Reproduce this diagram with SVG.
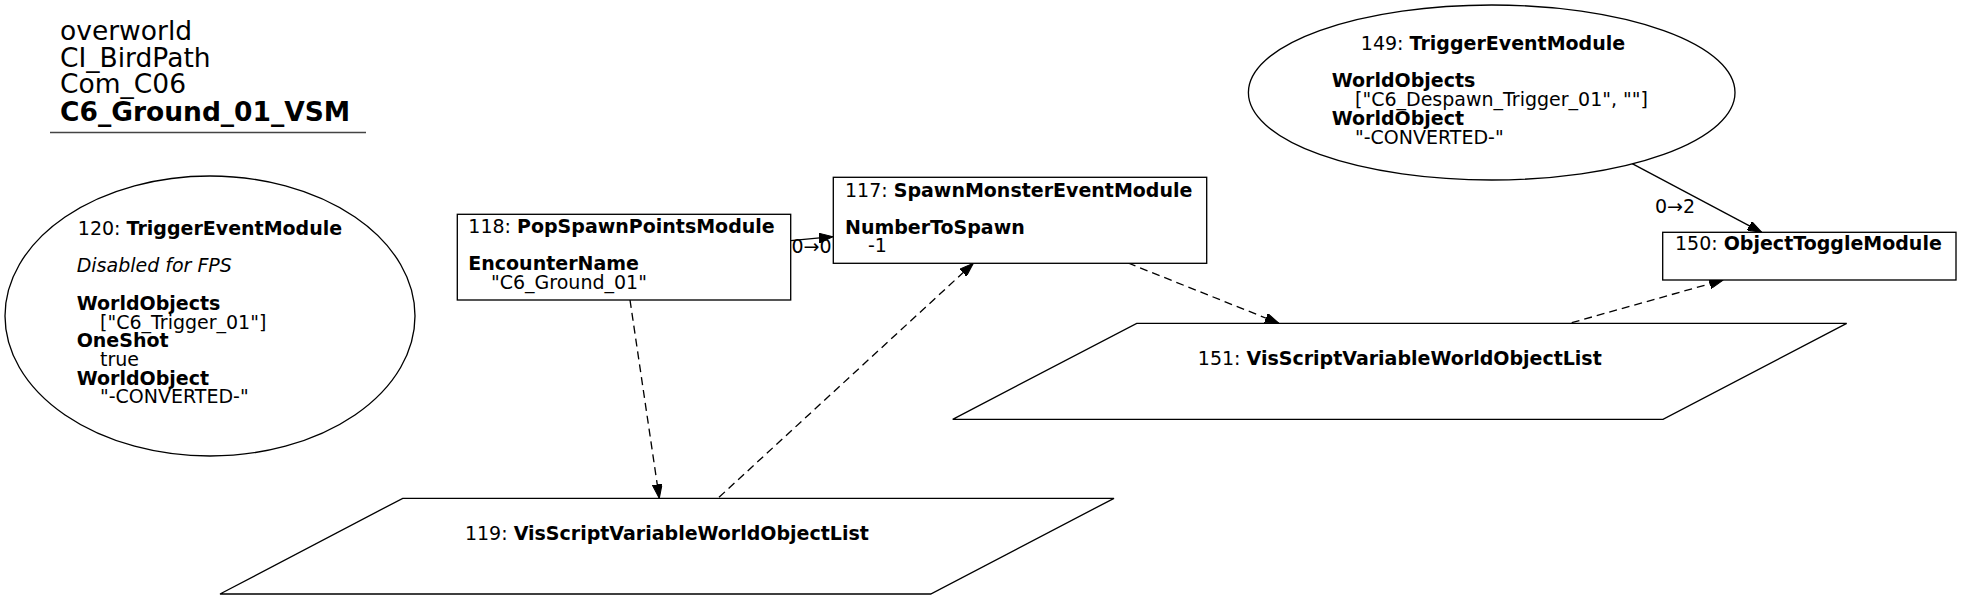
<svg xmlns="http://www.w3.org/2000/svg" width="1961" height="600" viewBox="0 0 1961 600">
<style>
text { font-family: "DejaVu Sans", "Liberation Sans", sans-serif; font-size: 19px; fill: #000; }
.b { font-weight: bold; }
.i { font-style: italic; }
.title { font-size: 26.5px; }
.shape { fill: #fff; stroke: #000; stroke-width: 1.33; }
.edge { fill: none; stroke: #000; stroke-width: 1.33; }
.dash { stroke-dasharray: 8,5; }
.mid { text-anchor: middle; }
</style>
<defs>
<marker id="arr" markerUnits="userSpaceOnUse" markerWidth="14" markerHeight="10" viewBox="0 0 13.3 9.4" refX="13.3" refY="4.7" orient="auto">
<path d="M0,0 L13.3,4.7 L0,9.4 z" fill="#000" stroke="#000" stroke-width="1"/>
</marker>
</defs>
<rect x="0" y="0" width="1961" height="600" fill="#fff"/>
<g id="title">
<text class="title" x="60" y="40">overworld</text>
<text class="title" x="60" y="66.7">CI_BirdPath</text>
<text class="title" x="60" y="93.4">Com_C06</text>
<text class="title b" x="60" y="120.5">C6_Ground_01_VSM</text>
<line x1="50" y1="132.5" x2="366" y2="132.5" stroke="#444" stroke-width="1.5"/>
</g>
<g id="connectors">
<path class="edge" d="M790.7,240.7 L833,236.7" marker-end="url(#arr)"/>
<text x="791.5" y="253">0→0</text>
<path class="edge" d="M1631.7,163.3 L1761.7,232.3" marker-end="url(#arr)"/>
<text x="1655" y="212.7">0→2</text>
<path class="edge dash" d="M630,300 L659.3,498.3" marker-end="url(#arr)"/>
<path class="edge dash" d="M719,497.3 L973.3,263.3" marker-end="url(#arr)"/>
<path class="edge dash" d="M1128,263 L1279,323.3" marker-end="url(#arr)"/>
<path class="edge dash" d="M1571.7,322.7 L1723.3,280" marker-end="url(#arr)"/>
</g>
<g id="node120">
<ellipse class="shape" cx="210" cy="316" rx="205" ry="140"/>
<text class="mid" x="210" y="235">120: <tspan class="b">TriggerEventModule</tspan></text>
<text class="i" x="76.7" y="272.4">Disabled for FPS</text>
<text class="b" x="76.7" y="309.8">WorldObjects</text>
<text x="100" y="328.5">["C6_Trigger_01"]</text>
<text class="b" x="76.7" y="347.2">OneShot</text>
<text x="100" y="365.9">true</text>
<text class="b" x="76.7" y="384.6">WorldObject</text>
<text x="100" y="403.3">"-CONVERTED-"</text>
</g>
<g id="node118">
<rect class="shape" x="457.3" y="214.3" width="333.4" height="85.7"/>
<text x="468.3" y="233.3">118: <tspan class="b">PopSpawnPointsModule</tspan></text>
<text class="b" x="468.3" y="270">EncounterName</text>
<text x="491" y="288.7">"C6_Ground_01"</text>
</g>
<g id="node117">
<rect class="shape" x="833.3" y="177.3" width="373.4" height="86"/>
<text x="845" y="196.7">117: <tspan class="b">SpawnMonsterEventModule</tspan></text>
<text class="b" x="845" y="233.5">NumberToSpawn</text>
<text x="868" y="252.2">-1</text>
</g>
<g id="node149">
<ellipse class="shape" cx="1491.7" cy="92.5" rx="243.3" ry="87.5"/>
<text class="mid" x="1493" y="50">149: <tspan class="b">TriggerEventModule</tspan></text>
<text class="b" x="1331.7" y="87.4">WorldObjects</text>
<text x="1355" y="106.1">["C6_Despawn_Trigger_01", ""]</text>
<text class="b" x="1331.7" y="124.8">WorldObject</text>
<text x="1355" y="143.5">"-CONVERTED-"</text>
</g>
<g id="node150">
<rect class="shape" x="1662.7" y="232.3" width="293.3" height="47.7"/>
<text x="1675" y="250">150: <tspan class="b">ObjectToggleModule</tspan></text>
</g>
<g id="node151">
<polygon class="shape" points="1136.7,323.3 1846.7,323.3 1663,419.3 952.7,419.3"/>
<text class="mid" x="1399.8" y="365">151: <tspan class="b">VisScriptVariableWorldObjectList</tspan></text>
</g>
<g id="node119">
<polygon class="shape" points="402.7,498.3 1114,498.3 930.7,594 220,594"/>
<text class="mid" x="666.9" y="540">119: <tspan class="b">VisScriptVariableWorldObjectList</tspan></text>
</g>
</svg>
